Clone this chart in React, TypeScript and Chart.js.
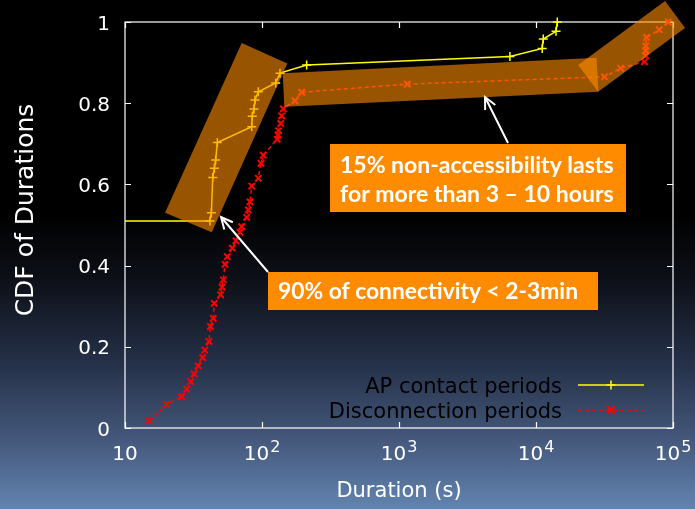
import React, { useEffect, useRef } from "react";
import { Chart, registerables } from "chart.js";

Chart.register(...registerables);

// ---------- data ----------
const apDuration = [1, 41.7, 42.7, 43.7, 44.9, 45.9, 47.2, 84.1, 84.9, 87.4, 88.9, 94.0, 125.9, 135.3, 211.8, 6450, 11100, 11300, 14000, 14300];
const apCdf = [0.51, 0.51, 0.53, 0.617, 0.64, 0.66, 0.703, 0.742, 0.768, 0.786, 0.808, 0.828, 0.85, 0.874, 0.894, 0.915, 0.935, 0.958, 0.977, 1.0];

const discDuration = [15.0, 20.1, 25.9, 28.2, 30.2, 32.0, 34.2, 36.9, 38.2, 41.0, 42.0, 44.1, 44.8, 49.9, 51.1, 52.2, 53.7, 55.8, 60.7, 64.5, 69.0, 71.1, 77.3, 79.4, 81.7, 84.1, 94.0, 98.3, 102, 129, 131, 132, 137, 139, 143, 174, 195, 1150, 31600, 41500, 61800, 63200, 63200, 63200, 64100, 79400, 92500];
const discCdf = [0.018, 0.058, 0.077, 0.096, 0.114, 0.133, 0.153, 0.173, 0.192, 0.213, 0.25, 0.27, 0.307, 0.328, 0.347, 0.365, 0.403, 0.422, 0.443, 0.461, 0.482, 0.496, 0.519, 0.537, 0.557, 0.596, 0.615, 0.652, 0.672, 0.711, 0.722, 0.732, 0.75, 0.769, 0.786, 0.806, 0.827, 0.847, 0.865, 0.886, 0.902, 0.917, 0.929, 0.941, 0.962, 0.981, 1.0];

const seriesLabels = ["AP contact periods", "Disconnection periods"];
const xTickValues = [10, 100, 1000, 10000, 100000];
const xTickBase = ["10", "10", "10", "10", "10"];
const xTickExp = ["", "2", "3", "4", "5"];
const yTickValues = [0, 0.2, 0.4, 0.6, 0.8, 1];
const yTickLabels = ["0", "0.2", "0.4", "0.6", "0.8", "1"];
const xTitle = "Duration (s)";
const yTitle = "CDF of Durations";

// highlighted regions (corners in data coordinates)
const highlightA_x = [71.1, 153, 43.0, 19.6];
const highlightA_y = [0.948, 0.898, 0.482, 0.53];
const highlightB_x = [141.6, 27700, 28500, 145.5];
const highlightB_y = [0.874, 0.912, 0.828, 0.791];
const highlightC_x = [20300, 87500, 122400, 28400];
const highlightC_y = [0.894, 1.052, 0.985, 0.828];

const note1Lines = ["15% non-accessibility lasts", "for more than 3 – 10 hours"];
const note2Lines = ["90% of connectivity < 2-3min"];

const GP_FONT = '"DejaVu Sans", "Liberation Sans", Arial, sans-serif';
const NOTE_FONT = 'Lato, "Open Sans", sans-serif';
const YELLOW = "#ffff00";
const RED = "#ff0000";

function drawPlus(ctx: CanvasRenderingContext2D, x: number, y: number, r: number) {
  ctx.beginPath();
  ctx.moveTo(x - r, y);
  ctx.lineTo(x + r, y);
  ctx.moveTo(x, y - r);
  ctx.lineTo(x, y + r);
  ctx.stroke();
}
function drawCross(ctx: CanvasRenderingContext2D, x: number, y: number, r: number) {
  ctx.beginPath();
  ctx.moveTo(x - r, y - r);
  ctx.lineTo(x + r, y + r);
  ctx.moveTo(x - r, y + r);
  ctx.lineTo(x + r, y - r);
  ctx.stroke();
}
function drawArrow(ctx: CanvasRenderingContext2D, x0: number, y0: number, x1: number, y1: number) {
  const ang = Math.atan2(y1 - y0, x1 - x0);
  const L = 13;
  const sp = 0.45;
  ctx.beginPath();
  ctx.moveTo(x0, y0);
  ctx.lineTo(x1, y1);
  ctx.moveTo(x1 - L * Math.cos(ang - sp), y1 - L * Math.sin(ang - sp));
  ctx.lineTo(x1, y1);
  ctx.lineTo(x1 - L * Math.cos(ang + sp), y1 - L * Math.sin(ang + sp));
  ctx.stroke();
}

const overlayPlugin = {
  id: "gnuplotOverlay",
  beforeDatasetsDraw(chart: any) {
    const ctx: CanvasRenderingContext2D = chart.ctx;
    const xs = chart.scales.x;
    const ys = chart.scales.y;
    const { left, right, top, bottom } = chart.chartArea;
    ctx.save();
    ctx.strokeStyle = "#ffffff";
    ctx.lineWidth = 1.2;
    ctx.strokeRect(left, top, right - left, bottom - top);
    const tl = 6;
    ctx.beginPath();
    xTickValues.forEach((v) => {
      const px = Math.round(xs.getPixelForValue(v)) + 0.5;
      ctx.moveTo(px, bottom);
      ctx.lineTo(px, bottom - tl);
      ctx.moveTo(px, top);
      ctx.lineTo(px, top + tl);
    });
    yTickValues.forEach((v) => {
      const py = Math.round(ys.getPixelForValue(v)) + 0.5;
      ctx.moveTo(left, py);
      ctx.lineTo(left + tl, py);
      ctx.moveTo(right, py);
      ctx.lineTo(right - tl, py);
    });
    ctx.stroke();
    ctx.restore();
  },
  afterDatasetsDraw(chart: any) {
    const ctx: CanvasRenderingContext2D = chart.ctx;
    const xs = chart.scales.x;
    const ys = chart.scales.y;
    const shapes = [
      [highlightA_x, highlightA_y],
      [highlightB_x, highlightB_y],
      [highlightC_x, highlightC_y],
    ];
    ctx.save();
    ctx.fillStyle = "rgba(255,140,0,0.6)";
    shapes.forEach(([hx, hy]) => {
      ctx.beginPath();
      hx.forEach((v, i) => {
        const px = xs.getPixelForValue(v);
        const py = ys.getPixelForValue(hy[i]);
        if (i === 0) ctx.moveTo(px, py);
        else ctx.lineTo(px, py);
      });
      ctx.closePath();
      ctx.fill();
    });
    ctx.restore();
  },
  afterDraw(chart: any) {
    const ctx: CanvasRenderingContext2D = chart.ctx;
    const xs = chart.scales.x;
    const ys = chart.scales.y;
    const { left, right, top, bottom } = chart.chartArea;
    ctx.save();
    // y tick labels
    ctx.fillStyle = "#ffffff";
    ctx.font = `20px ${GP_FONT}`;
    ctx.textAlign = "right";
    ctx.textBaseline = "alphabetic";
    yTickValues.forEach((v, i) => {
      const py = ys.getPixelForValue(v);
      ctx.fillText(yTickLabels[i], left - 15, py + 7.5);
    });
    // x tick labels with superscripts
    xTickValues.forEach((v, i) => {
      const px = xs.getPixelForValue(v);
      ctx.font = `20px ${GP_FONT}`;
      const wb = ctx.measureText(xTickBase[i]).width;
      ctx.font = `16px ${GP_FONT}`;
      const we = xTickExp[i] ? ctx.measureText(xTickExp[i]).width + 1 : 0;
      const x0 = px - (wb + we) / 2;
      ctx.textAlign = "left";
      ctx.font = `20px ${GP_FONT}`;
      ctx.fillText(xTickBase[i], x0, bottom + 32);
      if (xTickExp[i]) {
        ctx.font = `16px ${GP_FONT}`;
        ctx.fillText(xTickExp[i], x0 + wb + 1, bottom + 24);
      }
    });
    // axis titles
    ctx.font = `21px ${GP_FONT}`;
    ctx.textAlign = "center";
    ctx.fillText(xTitle, (left + right) / 2 - 0, bottom + 69);
    ctx.save();
    ctx.translate(33, 210);
    ctx.rotate(-Math.PI / 2);
    ctx.font = `25px ${GP_FONT}`;
    ctx.fillText(yTitle, 0, 0);
    ctx.restore();

    // legend
    const legY = [385, 410];
    const legTextRight = right - 111;
    const sampleL = right - 95;
    const sampleR = right - 29;
    ctx.font = `21px ${GP_FONT}`;
    ctx.textAlign = "right";
    ctx.fillStyle = "#000000";
    seriesLabels.forEach((lab, i) => {
      ctx.fillText(lab, legTextRight, legY[i] + 8);
    });
    ctx.lineWidth = 1.5;
    ctx.strokeStyle = YELLOW;
    ctx.beginPath();
    ctx.moveTo(sampleL, legY[0]);
    ctx.lineTo(sampleR, legY[0]);
    ctx.stroke();
    drawPlus(ctx, (sampleL + sampleR) / 2, legY[0], 4.5);
    ctx.strokeStyle = RED;
    ctx.setLineDash([4, 3]);
    ctx.beginPath();
    ctx.moveTo(sampleL, legY[1]);
    ctx.lineTo(sampleR, legY[1]);
    ctx.stroke();
    ctx.setLineDash([]);
    ctx.lineWidth = 2;
    drawCross(ctx, (sampleL + sampleR) / 2, legY[1], 4);

    // annotation boxes
    ctx.fillStyle = "#ff8c00";
    ctx.fillRect(330, 144, 296, 68);
    ctx.fillRect(268, 272, 330, 38);
    ctx.fillStyle = "#ffffff";
    ctx.textAlign = "left";
    ctx.font = `bold 23px ${NOTE_FONT}`;
    ctx.fillText(note1Lines[0], 340, 173, 274);
    ctx.fillText(note1Lines[1], 340, 202, 274);
    ctx.fillText(note2Lines[0], 278, 299, 300);

    // arrows
    ctx.strokeStyle = "#ffffff";
    ctx.lineWidth = 2;
    drawArrow(ctx, 508, 143, 485, 97);
    drawArrow(ctx, 268, 272, 221, 217);
    ctx.restore();
  },
};

export default function App() {
  const canvasRef = useRef<HTMLCanvasElement | null>(null);

  useEffect(() => {
    if (!canvasRef.current) return;
    const apPoints = apDuration.map((x, i) => ({ x, y: apCdf[i] }));
    const discPoints = discDuration.map((x, i) => ({ x, y: discCdf[i] }));
    const chart = new Chart(canvasRef.current, {
      type: "scatter",
      data: {
        datasets: [
          {
            label: seriesLabels[0],
            data: apPoints,
            showLine: true,
            borderColor: YELLOW,
            backgroundColor: YELLOW,
            borderWidth: 1.5,
            pointStyle: "cross",
            pointRadius: 4.5,
            pointBorderWidth: 1.5,
            pointBorderColor: YELLOW,
            clip: { left: 0, top: 6, right: 6, bottom: 6 } as any,
          },
          {
            label: seriesLabels[1],
            data: discPoints,
            showLine: true,
            borderColor: RED,
            backgroundColor: RED,
            borderWidth: 1.5,
            borderDash: [4, 3],
            pointStyle: "crossRot",
            pointRadius: 4.5,
            pointBorderWidth: 2,
            pointBorderColor: RED,
            clip: { left: 0, top: 6, right: 6, bottom: 6 } as any,
          },
        ],
      },
      options: {
        responsive: false,
        animation: false,
        devicePixelRatio: 1,
        layout: { padding: { left: 125, right: 22, top: 22, bottom: 81 } },
        scales: {
          x: { type: "logarithmic", min: 10, max: 100000, display: false },
          y: { type: "linear", min: 0, max: 1, display: false },
        },
        plugins: {
          legend: { display: false },
          tooltip: { enabled: false },
        },
      },
      plugins: [overlayPlugin],
    });
    return () => chart.destroy();
  }, []);

  return (
    <div
      style={{
        position: "absolute",
        left: 0,
        top: 0,
        width: 695,
        height: 509,
        background:
          "linear-gradient(to bottom, #000000 0%, #000000 42%, #0d1018 55%, #26324a 72%, #44577a 86%, #6284b0 100%)",
      }}
    >
      <canvas ref={canvasRef} width={695} height={509} style={{ display: "block" }} />
    </div>
  );
}
